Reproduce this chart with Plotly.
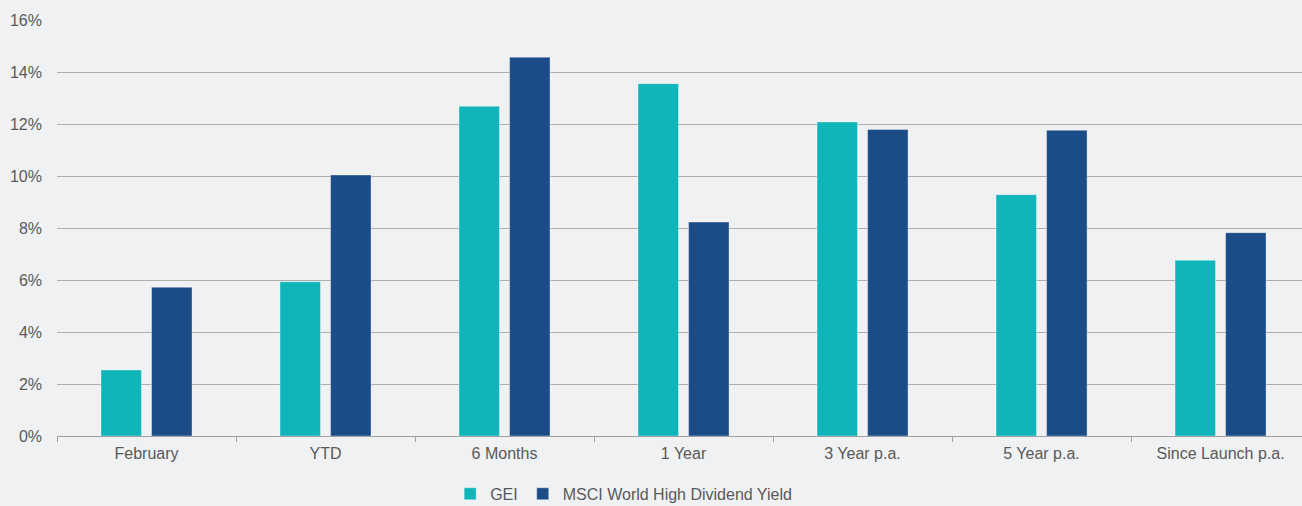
import plotly.graph_objects as go

categories = ["February", "YTD", "6 Months", "1 Year", "3 Year p.a.", "5 Year p.a.", "Since Launch p.a."]
gei = [2.54, 5.93, 12.68, 13.55, 12.08, 9.28, 6.76]
msci = [5.72, 10.04, 14.57, 8.23, 11.79, 11.76, 7.82]
y_ticks = [0, 2, 4, 6, 8, 10, 12, 14, 16]
y_tick_labels = [f"{v}%" for v in y_ticks]

BG = "#F0F1F3"
TXT = "#595959"
FONT = "Liberation Sans, Arial, sans-serif"

fig = go.Figure()
fig.add_trace(go.Bar(name="GEI", x=categories, y=gei,
                     marker=dict(color="#10B5B9", line=dict(color="rgba(255,255,255,0.45)", width=0.8))))
fig.add_trace(go.Bar(name="MSCI World High Dividend Yield", x=categories, y=msci,
                     marker=dict(color="#1C4C87", line=dict(color="rgba(255,255,255,0.45)", width=0.8))))

fig.update_layout(
    width=1302, height=506,
    paper_bgcolor=BG, plot_bgcolor=BG,
    margin=dict(l=57, r=0, t=20, b=70, autoexpand=False),
    barmode="group", bargap=0.435, bargroupgap=0.2,
    font=dict(family=FONT, size=16, color=TXT),
    legend=dict(orientation="h", xref="container", yref="container",
                x=0.479, xanchor="center", y=0.024, yanchor="middle",
                font=dict(size=16, color=TXT), bgcolor="rgba(0,0,0,0)",
                itemwidth=30, tracegroupgap=0),
    showlegend=True,
)
fig.update_xaxes(
    range=[-0.5, 6.455], automargin=False,
    showgrid=False, showline=True, linecolor="#A0A0A0", linewidth=1,
    ticks="outside", tickson="boundaries", ticklen=5, tickcolor="#A0A0A0",
    ticklabelstandoff=3,
    tickfont=dict(size=16, color=TXT),
)
fig.update_yaxes(
    range=[0, 16], tickvals=y_ticks, ticktext=y_tick_labels, automargin=False,
    showgrid=True, gridcolor="#AEAEAE", gridwidth=1,
    zeroline=False, showline=False,
    ticklabelstandoff=14,
    tickfont=dict(size=16, color=TXT),
)

fig.write_html("out.html")
